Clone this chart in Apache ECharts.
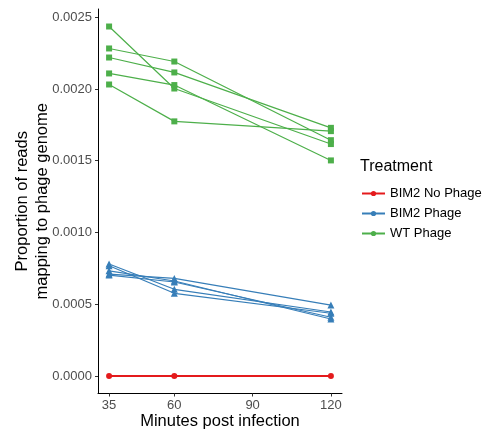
<!DOCTYPE html>
<html>
<head>
<meta charset="utf-8">
<script src="https://cdn.jsdelivr.net/npm/echarts@6/dist/echarts.min.js"></script>
<style>
html,body{margin:0;padding:0;background:#fff;}
#chart{width:486px;height:429px;}
</style>
</head>
<body>
<div id="chart"></div>
<script>
// ---- data ----
const minutes = [35, 60, 120];
const xTicks = [35, 60, 90, 120];
const yTicks = [0, 0.0005, 0.0010, 0.0015, 0.0020, 0.0025];
const groups = ['BIM2 No Phage', 'BIM2 Phage', 'WT Phage'];

const bim2NoPhage = [
  [0, 0, 0]
];
const bim2Phage = [
  [0.000710, 0.000680, 0.000494],
  [0.000733, 0.000662, 0.000397],
  [0.000703, 0.000655, 0.000409],
  [0.000780, 0.000604, 0.000446],
  [0.000768, 0.000576, 0.000437]
];
const wtPhage = [
  [0.002435, 0.002003, 0.001616],
  [0.002282, 0.002191, 0.001643],
  [0.002219, 0.002115, 0.001729],
  [0.002108, 0.002027, 0.001502],
  [0.002031, 0.001774, 0.001706]
];

// ---- styles ----
const colors = ['#E41A1C', '#377EB8', '#4DAF4A'];
const shapes = ['circle', 'triangle', 'rect'];
const symSizes = [6, 7, 6];
const lineWidths = [2, 1.2, 1.2];
const font = 'Liberation Sans, Arial, Helvetica, sans-serif';

const series = [];
[bim2NoPhage, bim2Phage, wtPhage].forEach((grp, gi) => {
  grp.forEach(rep => {
    series.push({
      type: 'line',
      name: groups[gi],
      symbol: 'circle',
      symbolSize: symSizes[gi],
      showAllSymbol: true,
      color: colors[gi],
      itemStyle: { color: colors[gi] },
      lineStyle: { color: colors[gi], width: lineWidths[gi] },
      emphasis: { disabled: true },
      animation: false,
      data: rep.map((v, i) => ({ value: [minutes[i], v], symbol: shapes[gi] }))
    });
  });
});

const chart = echarts.init(document.getElementById('chart'), null, { renderer: 'canvas' });
chart.setOption({
  backgroundColor: '#ffffff',
  animation: false,
  textStyle: { fontFamily: font },
  grid: { left: 98, top: 9, width: 244, height: 384.5, containLabel: false, outerBoundsMode: 'none' },
  title: {
    text: 'Treatment',
    left: 360, top: 159, padding: 0,
    textStyle: { fontFamily: font, fontSize: 16, fontWeight: 'normal', color: '#000' }
  },
  legend: {
    data: groups,
    orient: 'vertical',
    left: 361, top: 187,
    padding: 0,
    itemWidth: 23, itemHeight: 6.5, itemGap: 7,
    textStyle: { fontFamily: font, fontSize: 13, color: '#000' },
    selectedMode: false
  },
  xAxis: {
    type: 'value',
    min: 30.75, max: 124.25,
    name: 'Minutes post infection',
    nameLocation: 'middle',
    nameGap: 19,
    nameMoveOverlap: false,
    nameTextStyle: { fontFamily: font, fontSize: 16.5, color: '#000' },
    axisLine: { show: true, onZero: false, lineStyle: { color: '#000', width: 1 } },
    axisTick: { show: true, length: 3, customValues: xTicks, lineStyle: { color: '#333', width: 1 } },
    axisLabel: { customValues: xTicks, margin: 5, fontSize: 13, color: '#4D4D4D', fontFamily: font },
    splitLine: { show: false }
  },
  yAxis: {
    type: 'value',
    min: -0.000122, max: 0.002557,
    name: 'Proportion of reads\nmapping to phage genome',
    nameLocation: 'middle',
    nameRotate: 90,
    nameGap: 46,
    nameMoveOverlap: false,
    nameTextStyle: { fontFamily: font, fontSize: 16.5, color: '#000', lineHeight: 20 },
    axisLine: { show: true, onZero: false, lineStyle: { color: '#000', width: 1 } },
    axisTick: { show: true, length: 3, customValues: yTicks, lineStyle: { color: '#333', width: 1 } },
    axisLabel: {
      customValues: yTicks, margin: 6, fontSize: 13, color: '#4D4D4D', fontFamily: font,
      formatter: v => v.toFixed(4)
    },
    splitLine: { show: false }
  },
  series: series
});
</script>
</body>
</html>
